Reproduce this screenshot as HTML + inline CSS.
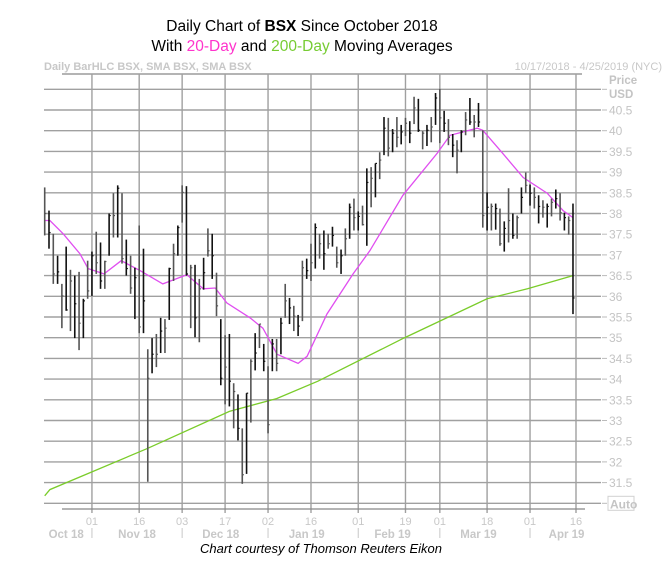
<!DOCTYPE html>
<html><head><meta charset="utf-8">
<style>
html,body{margin:0;padding:0;background:#fff;}
body{width:669px;height:581px;overflow:hidden;font-family:"Liberation Sans",sans-serif;}
svg{display:block;}
</style></head>
<body>
<svg id="chart" width="669" height="581" viewBox="0 0 669 581" xmlns="http://www.w3.org/2000/svg">
<g font-family="Liberation Sans, sans-serif" font-size="15.5" text-anchor="middle" fill="#000">
<text x="302" y="31">Daily Chart of <tspan font-weight="bold">BSX</tspan> Since October 2018</text>
<text x="302" y="51">With <tspan fill="#ff33cc">20-Day</tspan> and <tspan fill="#77cc33">200-Day</tspan> Moving Averages</text>
</g>
<text x="44" y="70" font-size="11" font-weight="bold" fill="#c8c8c8">Daily BarHLC BSX, SMA BSX, SMA BSX</text>
<text x="662" y="70" font-size="11" fill="#c8c8c8" text-anchor="end">10/17/2018 - 4/25/2019 (NYC)</text>
<g id="grid"></g>
<g id="ma"></g>
<g id="bars"></g>
<g id="axes"></g>
<text x="321" y="553" font-size="13" font-style="italic" text-anchor="middle" fill="#000">Chart courtesy of Thomson Reuters Eikon</text>
</svg>
<script>
const highs=[38.63,38.07,37.51,36.98,36.30,37.20,36.64,36.50,36.59,35.94,36.86,37.08,37.56,37.30,36.86,38.00,38.49,38.68,38.49,37.37,36.98,36.69,37.71,37.15,34.72,34.99,35.09,35.48,35.45,36.69,37.27,37.71,38.68,38.66,36.76,36.76,36.42,36.93,37.64,37.51,36.57,35.45,35.06,35.09,33.90,33.63,32.81,33.66,34.48,35.11,35.33,34.85,34.31,34.97,34.97,35.48,36.30,35.96,35.77,35.55,36.86,36.91,37.27,37.76,37.51,37.59,37.51,37.68,37.20,37.13,37.64,38.24,38.36,38.05,38.19,39.09,39.12,39.21,39.48,40.33,40.31,40.04,40.33,40.14,40.31,40.23,40.82,40.77,39.99,40.14,40.33,40.91,41.01,40.48,40.28,39.92,39.77,40.01,40.45,40.79,40.38,40.67,40.01,38.51,38.24,38.24,38.12,37.81,38.61,38.00,37.95,38.63,38.99,38.70,38.63,38.44,38.32,38.24,38.36,38.58,38.49,38.02,37.93,38.24];
const lows=[37.47,37.15,36.30,36.30,35.23,35.65,35.16,34.99,34.70,34.99,35.94,36.01,36.54,36.18,36.18,36.98,37.42,37.42,36.79,36.50,36.06,35.45,35.11,35.11,31.52,34.14,34.29,34.63,34.63,35.43,36.37,36.98,37.78,36.50,35.23,35.01,34.89,36.16,36.96,36.42,35.52,33.85,33.39,33.34,32.81,32.52,31.47,31.71,32.95,34.21,34.75,34.19,32.69,34.19,34.19,34.60,35.48,35.33,35.16,35.04,35.40,36.42,36.37,36.67,36.91,36.64,37.15,37.20,36.69,36.54,36.98,37.39,37.59,37.59,37.71,37.22,38.15,38.39,38.83,39.41,39.38,39.48,39.60,39.67,39.87,39.70,40.16,39.97,39.55,39.63,39.72,40.14,39.70,39.97,39.65,39.36,38.97,39.48,39.89,40.14,39.84,40.09,37.66,37.59,37.59,37.61,37.22,37.08,37.30,37.39,37.39,38.00,38.49,38.19,38.12,37.76,37.90,37.66,37.93,38.12,37.83,37.59,37.49,35.57];
const closes=[38.00,37.54,36.54,36.59,36.01,35.67,36.37,35.82,35.35,35.89,36.13,36.98,36.81,36.37,36.84,37.95,37.95,38.61,36.91,36.67,36.20,36.45,35.26,35.89,34.02,34.60,34.60,35.16,35.23,36.67,37.03,37.66,38.51,36.54,36.69,35.48,36.18,36.57,37.10,36.98,35.77,34.02,34.29,33.95,33.70,32.81,31.69,33.66,34.43,34.63,35.33,34.43,32.90,34.85,34.38,35.35,35.89,35.72,35.52,35.28,36.69,36.62,36.81,37.66,37.27,37.03,37.27,37.47,36.81,36.98,37.39,38.15,37.90,37.93,37.73,38.75,38.85,39.21,39.29,40.06,39.58,39.94,39.84,39.97,40.18,39.94,40.55,40.01,39.94,40.01,40.09,40.79,40.31,40.18,39.84,39.65,39.53,39.97,40.26,40.21,40.21,40.21,37.95,38.15,38.17,38.12,37.27,37.64,37.83,37.47,37.90,38.39,38.68,38.49,38.39,38.17,38.15,38.17,38.27,38.36,38.02,37.90,37.83,35.96];
const sma20Idx=[0,1.2,4.3,8.2,10.1,13.8,17.8,22.2,27.5,33.1,36.9,39.7,42.4,47.8,50.8,54.1,59,61.1,65.7,71.8,75.7,83.4,91.4,94.4,100.7,102,106,111.4,117,120.7,123];
const sma20Val=[37.83,37.83,37.51,37.03,36.67,36.54,36.86,36.62,36.30,36.52,36.18,36.20,35.84,35.48,35.23,34.60,34.38,34.55,35.57,36.54,37.10,38.44,39.46,39.89,40.06,40.01,39.53,38.87,38.49,38.07,37.90];
const sma200Idx=[0,1.2,23.8,43,54,63.6,83.6,103,112.4,123];
const sma200Val=[31.18,31.33,32.32,33.22,33.53,33.95,34.99,35.94,36.18,36.50];
const priceTicks=["40.5","40","39.5","39","38.5","38","37.5","37","36.5","36","35.5","35","34.5","34","33.5","33","32.5","32","31.5"];
const tickVals=[40.5,40,39.5,39,38.5,38,37.5,37,36.5,36,35.5,35,34.5,34,33.5,33,32.5,32,31.5];
const dayTicks=["01","16","03","17","02","16","01","19","01","18","01","16"];
const dayTickIdx=[11,22,32,42,52,62,73,84,92,103,113,123.7];
const monthLabels=["Oct 18","Nov 18","Dec 18","Jan 19","Feb 19","Mar 19","Apr 19"];
const monthCenterIdx=[5,21.5,41,61,81,101,121.5];

const NS="http://www.w3.org/2000/svg";
const X0=44.7, STEP=4.295, Y405=110, PXPER=41.4;
function xs(i){return X0+i*STEP;}
function ys(p){return Y405+(40.5-p)*PXPER;}
function mk(tag,attrs,parent){const e=document.createElementNS(NS,tag);for(const k in attrs)e.setAttribute(k,attrs[k]);parent.appendChild(e);return e;}
const grid=document.getElementById('grid'),axes=document.getElementById('axes'),bars=document.getElementById('bars'),ma=document.getElementById('ma');
const yTop=74,yBot=509;
// top border
let t=mk('line',{x1:62,y1:yTop,x2:582,y2:yTop,stroke:'#888','stroke-width':1.3},grid);


// horizontal gridlines
const hv=[41].concat(tickVals).concat([31]);
hv.forEach(v=>{
 const y=ys(v);
 const l=mk('line',{x1:44,y1:y,x2:601,y2:y,stroke:'#a0a0a0','stroke-width':1.4},grid);
 
 
 const d=mk('line',{x1:602,y1:y,x2:607,y2:y,stroke:'#bbb','stroke-width':1},grid);
 
 
});
// vertical gridlines
dayTickIdx.forEach(i=>{
 const x=xs(i);
 const l=mk('line',{x1:x,y1:yTop,x2:x,y2:yBot+4,stroke:'#a0a0a0','stroke-width':1.4},grid);
 
 
});
// bottom axis
let b=mk('line',{x1:62,y1:yBot,x2:585,y2:yBot,stroke:'#888','stroke-width':1.3},axes);


// price labels
priceTicks.forEach((s,k)=>{
 const tx=mk('text',{x:609,y:ys(tickVals[k])+4.5,'font-size':12,fill:'#c4c4c4'},axes);
 tx.textContent=s;
 
 
});
const pr=mk('text',{x:609,y:84,'font-size':11.5,'font-weight':'bold',fill:'#c4c4c4'},axes);pr.textContent='Price';


const us=mk('text',{x:609,y:98,'font-size':11.5,'font-weight':'bold',fill:'#c4c4c4'},axes);us.textContent='USD';


const ab=mk('rect',{x:608,y:ys(31)-7,width:26,height:14,fill:'none',stroke:'#d0d0d0','stroke-width':1},axes);


const at=mk('text',{x:610,y:ys(31)+5,'font-size':12,'font-weight':'bold',fill:'#c4c4c4'},axes);at.textContent='Auto';


// day ticks
dayTicks.forEach((s,k)=>{
 const tx=mk('text',{x:xs(dayTickIdx[k]),y:525,'font-size':11,fill:'#c8c8c8','text-anchor':'middle'},axes);
 tx.textContent=s;
 
 
});
monthLabels.forEach((s,k)=>{
 const tx=mk('text',{x:xs(monthCenterIdx[k]),y:538,'font-size':11.5,'font-weight':'bold',fill:'#c8c8c8','text-anchor':'middle'},axes);
 tx.textContent=s;
 
 
});
[11,32,52,73,92,113].forEach(i=>{
 const l=mk('line',{x1:xs(i),y1:528,x2:xs(i),y2:538,stroke:'#c8c8c8','stroke-width':1},axes);
 
 
});
// moving averages
function poly(idx,val,color,name){
 const pts=idx.map((i,k)=>xs(i).toFixed(1)+','+ys(val[k]).toFixed(1)).join(' ');
 const p=mk('polyline',{points:pts,fill:'none',stroke:color,'stroke-width':1.3},ma);
 
 
}
poly(sma200Idx,sma200Val,'#7acc2a','sma-200-line');
poly(sma20Idx,sma20Val,'#e04ef0','sma-20-line');
// HLC bars
highs.forEach((h,i)=>{
 const x=xs(i);
 const col=(i%2)?'#111':'#555';
 const g=mk('g',{},bars);
 
 
 mk('line',{x1:x,y1:ys(h),x2:x,y2:ys(lows[i]),stroke:col,'stroke-width':1.6},g);
 mk('line',{x1:x,y1:ys(closes[i]),x2:x+1.6,y2:ys(closes[i]),stroke:col,'stroke-width':1.2},g);
});
</script>
</body></html>
